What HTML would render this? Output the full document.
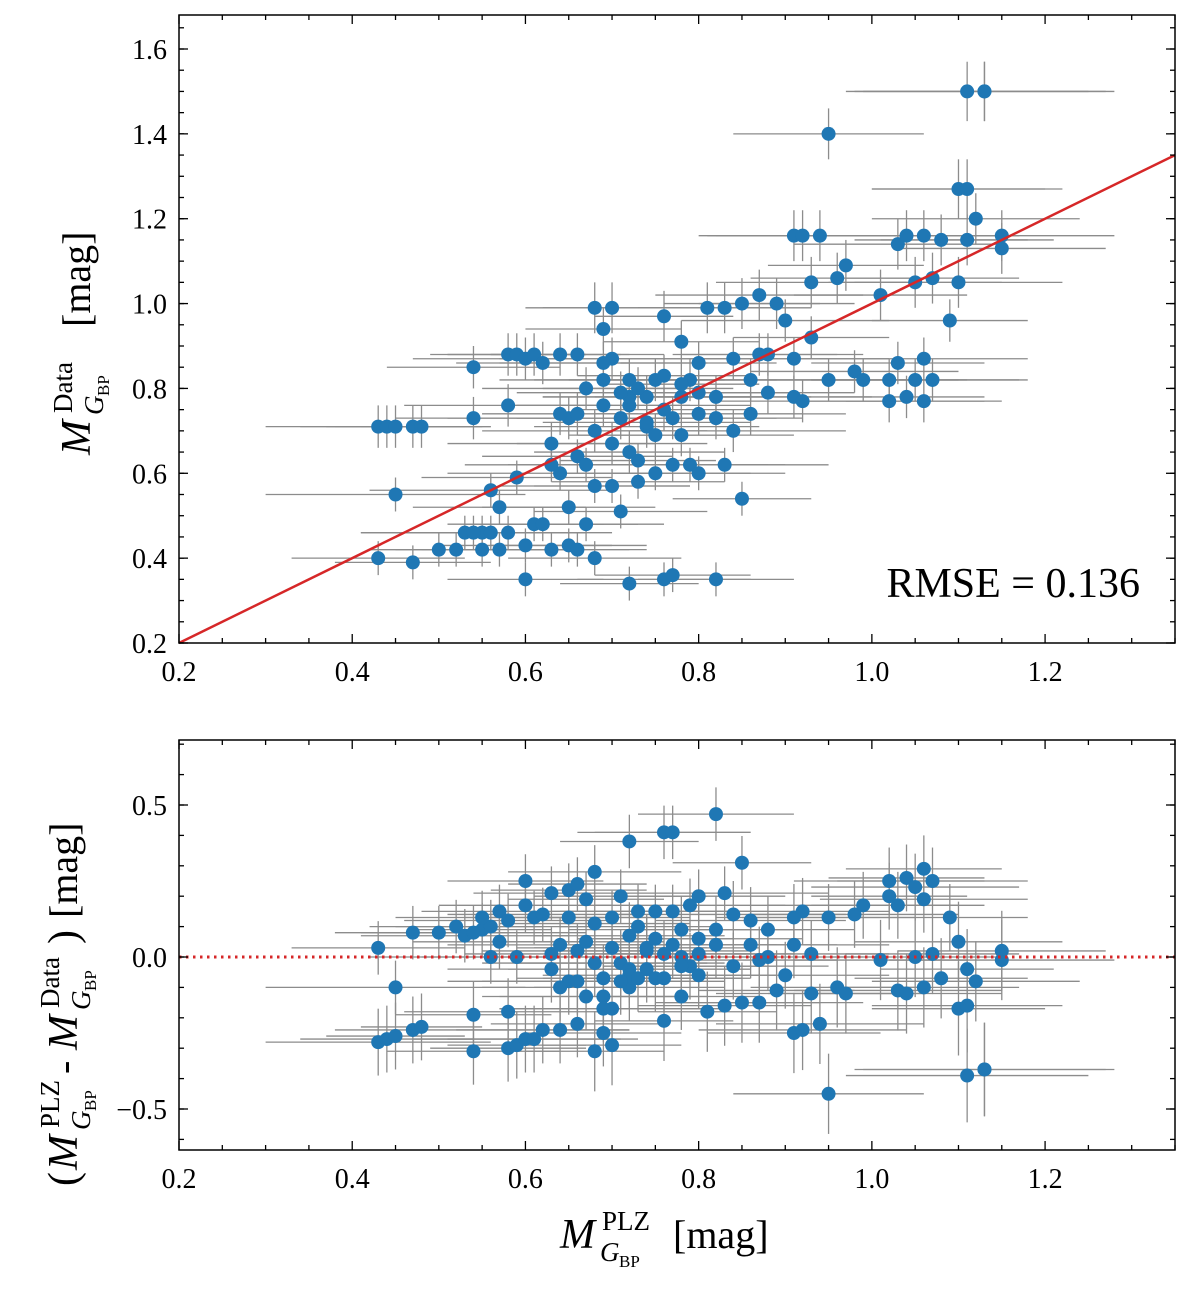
<!DOCTYPE html>
<html><head><meta charset="utf-8"><style>
body{margin:0;background:#fff}
svg text{font-family:"Liberation Serif",serif;fill:#000}
</style></head><body>
<svg id="c" width="1200" height="1294" viewBox="0 0 1200 1294" xmlns="http://www.w3.org/2000/svg"></svg>
<script>
const xs=[0.43,0.44,0.45,0.47,0.48,0.43,0.45,0.47,0.50,0.52,0.53,0.54,0.54,0.55,0.56,0.56,0.57,0.57,0.58,0.58,0.59,0.59,0.60,0.60,0.60,0.61,0.61,0.62,0.63,0.63,0.63,0.64,0.64,0.65,0.65,0.65,0.66,0.66,0.66,0.67,0.67,0.68,0.68,0.68,0.68,0.69,0.69,0.69,0.70,0.70,0.70,0.70,0.71,0.71,0.72,0.72,0.72,0.73,0.73,0.74,0.74,0.75,0.75,0.75,0.76,0.76,0.77,0.77,0.77,0.78,0.78,0.78,0.79,0.79,0.80,0.80,0.80,0.81,0.82,0.82,0.82,0.83,0.83,0.84,0.84,0.85,0.85,0.86,0.86,0.87,0.87,0.88,0.88,0.89,0.90,0.91,0.91,0.91,0.92,0.92,0.93,0.93,0.94,0.95,0.95,0.96,0.97,0.98,0.99,1.01,1.02,1.03,1.03,1.04,1.04,1.05,1.05,1.06,1.06,1.06,1.07,1.07,1.08,1.09,1.10,1.10,1.11,1.11,1.11,1.12,1.13,1.13,1.15,1.15,1.02,0.72,0.69,0.66,0.64,0.62,0.58,0.54,0.55,0.67,0.72,0.74,0.76,0.71,0.73,0.76,0.78,0.80];
const ys=[0.71,0.71,0.71,0.71,0.71,0.40,0.55,0.39,0.42,0.42,0.46,0.73,0.85,0.46,0.46,0.56,0.42,0.52,0.76,0.88,0.88,0.59,0.43,0.35,0.87,0.48,0.88,0.48,0.42,0.67,0.62,0.88,0.60,0.43,0.52,0.73,0.42,0.64,0.88,0.80,0.48,0.99,0.40,0.70,0.57,0.94,0.82,0.76,0.99,0.67,0.87,0.57,0.73,0.51,0.34,0.76,0.82,0.63,0.58,0.78,0.71,0.82,0.69,0.60,0.97,0.35,0.36,0.73,0.62,0.78,0.91,0.69,0.82,0.62,0.86,0.74,0.60,0.99,0.78,0.73,0.35,0.99,0.62,0.87,0.70,1.00,0.54,0.82,0.74,0.88,1.02,0.79,0.88,1.00,0.96,1.16,0.87,0.78,1.16,0.77,1.05,0.92,1.16,0.82,1.40,1.06,1.09,0.84,0.82,1.02,0.82,1.14,0.86,1.16,0.78,0.82,1.05,1.16,0.77,0.87,1.06,0.82,1.15,0.96,1.05,1.27,1.50,1.27,1.15,1.20,1.50,1.50,1.16,1.13,0.77,0.78,0.86,0.74,0.74,0.86,0.46,0.46,0.42,0.62,0.65,0.72,0.75,0.79,0.80,0.83,0.81,0.79];
const xerr=[0.13,0.10,0.08,0.09,0.07,0.10,0.15,0.09,0.08,0.10,0.12,0.09,0.10,0.08,0.11,0.14,0.09,0.10,0.12,0.09,0.08,0.11,0.10,0.09,0.13,0.08,0.10,0.11,0.09,0.12,0.10,0.08,0.13,0.09,0.10,0.14,0.08,0.11,0.10,0.12,0.09,0.08,0.10,0.13,0.11,0.09,0.12,0.10,0.08,0.11,0.13,0.09,0.12,0.10,0.08,0.14,0.11,0.09,0.10,0.12,0.13,0.10,0.09,0.11,0.08,0.10,0.09,0.12,0.11,0.10,0.09,0.13,0.10,0.11,0.09,0.12,0.10,0.08,0.11,0.10,0.09,0.10,0.12,0.11,0.13,0.09,0.08,0.10,0.11,0.09,0.12,0.10,0.11,0.09,0.12,0.10,0.11,0.09,0.12,0.10,0.11,0.09,0.12,0.10,0.11,0.10,0.09,0.12,0.11,0.10,0.09,0.12,0.10,0.11,0.09,0.12,0.10,0.11,0.09,0.12,0.10,0.11,0.10,0.09,0.12,0.10,0.14,0.11,0.10,0.12,0.15,0.14,0.13,0.12,0.11,0.10,0.12,0.11,0.09,0.10,0.12,0.13,0.10,0.09,0.11,0.12,0.10,0.12,0.11,0.10,0.09,0.11];
const yerr=[0.05,0.05,0.05,0.05,0.05,0.04,0.04,0.04,0.04,0.04,0.04,0.05,0.05,0.04,0.04,0.04,0.04,0.04,0.05,0.05,0.05,0.04,0.04,0.04,0.05,0.04,0.05,0.04,0.04,0.05,0.04,0.05,0.04,0.04,0.04,0.05,0.04,0.04,0.05,0.05,0.04,0.06,0.04,0.05,0.04,0.05,0.05,0.05,0.06,0.05,0.05,0.04,0.05,0.04,0.04,0.05,0.05,0.04,0.04,0.05,0.05,0.05,0.05,0.04,0.06,0.04,0.04,0.05,0.04,0.05,0.05,0.05,0.05,0.04,0.05,0.05,0.04,0.06,0.05,0.05,0.04,0.06,0.04,0.05,0.05,0.06,0.04,0.05,0.05,0.05,0.06,0.05,0.05,0.06,0.05,0.06,0.05,0.05,0.06,0.05,0.06,0.05,0.06,0.05,0.06,0.06,0.06,0.05,0.05,0.06,0.05,0.06,0.05,0.06,0.05,0.05,0.06,0.06,0.05,0.05,0.06,0.05,0.06,0.05,0.06,0.07,0.07,0.07,0.06,0.06,0.07,0.07,0.06,0.06,0.05,0.05,0.05,0.05,0.05,0.05,0.04,0.04,0.04,0.04,0.05,0.05,0.05,0.05,0.05,0.05,0.05,0.05];
const xTicks=[0.2,0.4,0.6,0.8,1.0,1.2];
const yTicksTop=[0.2,0.4,0.6,0.8,1.0,1.2,1.4,1.6];
const yTicksBot=[-0.5,0.0,0.5];
const yLabBot=["\u22120.5","0.0","0.5"];
const rmseText="RMSE = 0.136";

const svg=document.getElementById('c');
const NS="http://www.w3.org/2000/svg";
function mk(t,a,p){const e=document.createElementNS(NS,t);for(const k in a)e.setAttribute(k,a[k]);(p||svg).appendChild(e);return e;}
function tx(p,x,y,s,str,it,anchor){const t=mk('text',{x:x,y:y,'font-size':s,'font-style':it?'italic':'normal','text-anchor':anchor||'start'},p);t.textContent=str;return t;}
const L=179,R=1175;
const X=v=>L+(v-0.2)/(1.15)*(R-L);
const PT={t:15,b:643,y0:0.2,y1:1.6,py0:643,py1:49,mStart:0,mEnd:30,mStep:0.05,mBase:0.2};
const PB={t:740,b:1150,y0:-0.5,y1:0.5,py0:1109,py1:805,mStart:-7,mEnd:8,mStep:0.1,mBase:0};
const Ytop=v=>PT.py0+(v-PT.y0)/(PT.y1-PT.y0)*(PT.py1-PT.py0);
const Ybot=v=>PB.py0+(v-PB.y0)/(PB.y1-PB.y0)*(PB.py1-PB.py0);

function frame(P,Y,yt,ylab,name){
  const g=mk('g',{});
  
  
  for(let k=0;k<=23;k++){const x=X(0.2+k*0.05);const len=(k%4==0)?9:5;
    mk('line',{x1:x,x2:x,y1:P.b,y2:P.b-len,stroke:'#000','stroke-width':1.3},g);
    mk('line',{x1:x,x2:x,y1:P.t,y2:P.t+len,stroke:'#000','stroke-width':1.3},g);}
  xTicks.forEach(v=>{const t=tx(g,X(v),P.b+38,28,v.toFixed(1),false,'middle');
    });
  for(let k=P.mStart;k<=P.mEnd;k++){const y=Y(P.mBase+k*P.mStep);if(y>P.b+0.5||y<P.t-0.5)continue;
    mk('line',{x1:L,x2:L+5,y1:y,y2:y,stroke:'#000','stroke-width':1.3},g);
    mk('line',{x1:R,x2:R-5,y1:y,y2:y,stroke:'#000','stroke-width':1.3},g);}
  yt.forEach((v,i)=>{const y=Y(v);
    mk('line',{x1:L,x2:L+9,y1:y,y2:y,stroke:'#000','stroke-width':1.3},g);
    mk('line',{x1:R,x2:R-9,y1:y,y2:y,stroke:'#000','stroke-width':1.3},g);
    const t=tx(g,L-12,y+10,28,ylab[i],false,'end');
    });
  mk('rect',{x:L,y:P.t,width:R-L,height:P.b-P.t,fill:'none',stroke:'#000','stroke-width':1.5},g);
}
const N=Math.min(xs.length,ys.length);
function points(Y,yv,ye,name){
  const g=mk('g',{});
  
  
  for(let i=0;i<N;i++){const xe=xerr[i]||0.1,yE=ye[i]||0.1;const x=X(xs[i]),y=Y(yv[i]);
    mk('line',{x1:X(xs[i]-xe),x2:X(xs[i]+xe),y1:y,y2:y,stroke:'#8c8c8c','stroke-width':1.3},g);
    mk('line',{x1:x,x2:x,y1:Y(yv[i]-yE),y2:Y(yv[i]+yE),stroke:'#8c8c8c','stroke-width':1.3},g);}
  const g2=mk('g',{});
  
  
  for(let i=0;i<N;i++){const c=mk('circle',{cx:X(xs[i]),cy:Y(yv[i]),r:7,fill:'#1f77b4'},g2);
    
    }
}
points(Ytop,ys,yerr,'top');
const fit=mk('line',{x1:X(0.2),y1:Ytop(0.2),x2:X(1.35),y2:Ytop(1.35),stroke:'#d62728','stroke-width':2.5});


frame(PT,Ytop,yTicksTop,yTicksTop.map(v=>v.toFixed(1)),'top');
const rm=tx(svg,1140,597,42,rmseText,false,'end');


const res=xs.map((v,i)=>+(v-ys[i]).toFixed(3));
const rerr=yerr.map(v=>+(v*2.2).toFixed(3));
points(Ybot,res,rerr,'residual');
const zl=mk('line',{x1:L,x2:R,y1:Ybot(0),y2:Ybot(0),stroke:'#d62728','stroke-width':3,'stroke-dasharray':'2.5,4.5'});

frame(PB,Ybot,yTicksBot,yLabBot,'bottom');

// M symbol with sup/sub, at baseline x,y (horizontal coords in group)
function msym(g,x,y,sup){
  tx(g,x,y,42,'M',true);
  tx(g,x+42,y-18,27,sup,false);
  tx(g,x+40,y+13,27,'G',true);
  tx(g,x+59,y+19,17,'BP',false);
}
// top y-label
const yl1=mk('g',{transform:'translate(90,335) rotate(-90)'});

msym(yl1,-120,0,'Data');
tx(yl1,8,0,40,'[mag]',false);
// bottom y-label
const yl2=mk('g',{transform:'translate(77,958) rotate(-90)'});

tx(yl2,-228,0,42,'(',false);
msym(yl2,-212,0,'PLZ');
tx(yl2,-116,0,40,'-',false);
msym(yl2,-92,0,'Data');
tx(yl2,14,0,42,')',false);
tx(yl2,40,0,40,'[mag]',false);
// x-label
const xl=mk('g',{transform:'translate(675,1248)'});

msym(xl,-115,0,'PLZ');
tx(xl,-2,0,40,'[mag]',false);
</script>
</body></html>
